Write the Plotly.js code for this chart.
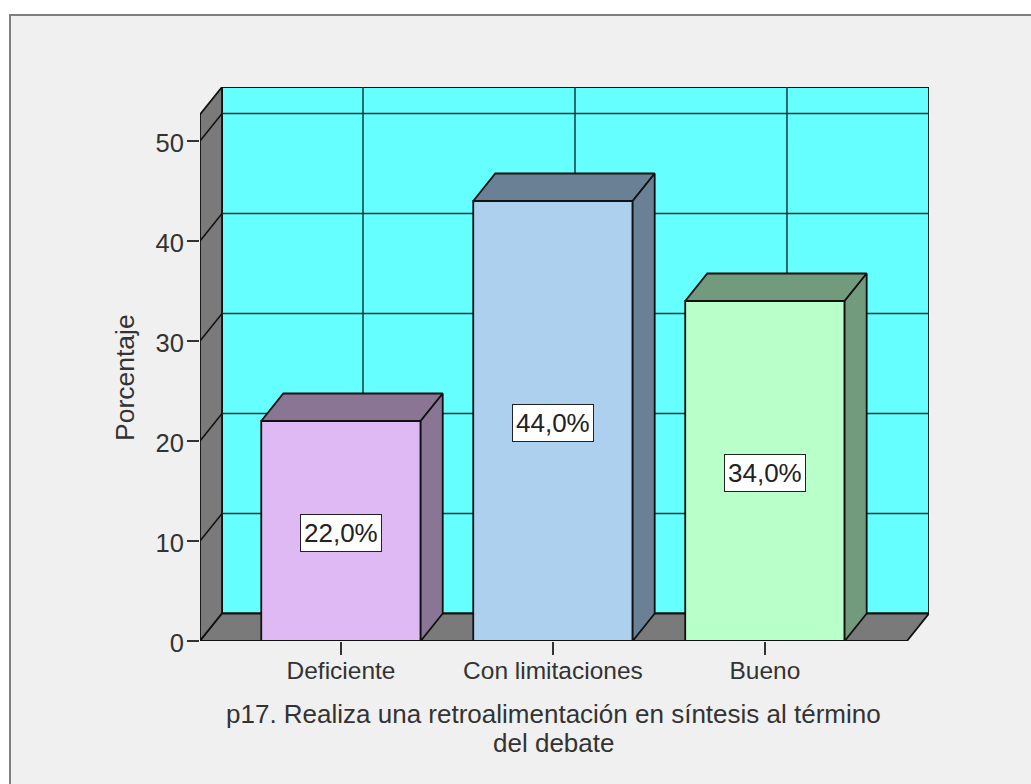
<!DOCTYPE html>
<html><head><meta charset="utf-8">
<script src="https://cdn.plot.ly/plotly-3.0.1.min.js"></script>
<style>html,body{margin:0;padding:0;background:#fff;overflow:hidden}#c{width:1031px;height:784px}</style>
</head><body><div id="c"></div>
<script>
const categories = ["Deficiente", "Con limitaciones", "Bueno"];
const values = [22, 44, 34];
const labels = ["22,0%", "44,0%", "34,0%"];
const frontColors = ["#dfb9f3", "#aed0ef", "#b9ffc9"];
const shadeColors = ["#8b7595", "#6a8095", "#729a7d"];
const yTicks = [0, 10, 20, 30, 40, 50];
const xTitleLines = ["p17. Realiza una retroalimentación en síntesis al término", "del debate"];
const yTitle = "Porcentaje";

const font = "Liberation Sans, Arial, sans-serif";
const textColor = "#333333";
const edge = "#111111";
const lw = 1.8;
const W = 1031, H = 784, L = 200, T = 87, PW = 729, PH = 554;
const xMin = -0.665, xMax = 2.774, yMin = 0, yMax = 55.4;
const barW = 0.752, dx = 0.104, dy = 2.75;

const poly = (xs, ys, fill) => ({
  type: "scatter", mode: "lines", x: xs.concat(xs[0]), y: ys.concat(ys[0]),
  fill: "toself", fillcolor: fill, line: {color: edge, width: lw},
  hoverinfo: "skip", showlegend: false, cliponaxis: false
});
const traces = [{
  type: "bar", x: categories.map((_, i) => i), y: values, width: barW,
  marker: {color: frontColors, line: {color: edge, width: lw}},
  hoverinfo: "skip", showlegend: false, cliponaxis: false
}];
values.forEach((v, i) => {
  const a = i - barW / 2, b = i + barW / 2;
  traces.push(poly([a, b, b + dx, a + dx], [v, v, v + dy, v + dy], shadeColors[i]));
  traces.push(poly([b, b + dx, b + dx, b], [0, dy, v + dy, v], shadeColors[i]));
});

const wallX = xMin + dx, frontR = xMax - dx;
const pathOf = pts => "M" + pts.map(p => p.join(",")).join("L") + "Z";
const shapes = [];
shapes.push({type: "rect", xref: "paper", yref: "paper", layer: "below",
  x0: (10 - L) / PW, x1: (W + 20 - L) / PW, y0: (T + PH - (H + 20)) / PH, y1: (T + PH - 15) / PH,
  fillcolor: "#f0f0f0", line: {color: "#7f7f7f", width: 2}});
shapes.push({type: "rect", xref: "x", yref: "y", layer: "below", x0: wallX, x1: xMax, y0: dy, y1: yMax,
  fillcolor: "#66ffff", line: {color: edge, width: lw}});
shapes.push({type: "path", xref: "x", yref: "y", layer: "below",
  path: pathOf([[xMin, 0], [wallX, dy], [wallX, yMax], [xMin, yMax - dy]]),
  fillcolor: "#7a7a7a", line: {color: edge, width: lw}});
shapes.push({type: "path", xref: "x", yref: "y", layer: "below",
  path: pathOf([[xMin, 0], [frontR, 0], [xMax, dy], [wallX, dy]]),
  fillcolor: "#7a7a7a", line: {color: edge, width: lw}});
yTicks.filter(v => v > 0).forEach(v => {
  shapes.push({type: "line", xref: "x", yref: "y", layer: "below", x0: wallX, x1: xMax, y0: v + dy, y1: v + dy,
    line: {color: "#123c3c", width: 1.5}});
  shapes.push({type: "line", xref: "x", yref: "y", layer: "below", x0: xMin, x1: wallX, y0: v, y1: v + dy,
    line: {color: edge, width: 1.5}});
});
categories.forEach((_, i) => {
  shapes.push({type: "line", xref: "x", yref: "y", layer: "below", x0: i + dx, x1: i + dx, y0: dy, y1: yMax,
    line: {color: "#123c3c", width: 1.5}});
});

const annotations = values.map((v, i) => ({
  x: i, y: v / 2 - 0.2, xref: "x", yref: "y", text: labels[i], showarrow: false,
  font: {family: font, size: 26, color: "#222222"}, bgcolor: "#ffffff",
  bordercolor: "#222222", borderwidth: 1, borderpad: 3
}));
[714, 743].forEach((py, k) => annotations.push({
  xref: "paper", yref: "paper", x: (553 - L) / PW, y: (T + PH - py) / PH, xanchor: "center", yanchor: "middle",
  text: xTitleLines[k], showarrow: false, align: "center", font: {family: font, size: 26, color: textColor}
}));
annotations.push({
  xref: "paper", yref: "paper", x: (125 - L) / PW, y: (T + PH - 378) / PH, xanchor: "center", yanchor: "middle",
  text: yTitle, textangle: -90, showarrow: false, font: {family: font, size: 26.5, color: textColor}
});

const layout = {
  width: W, height: H, paper_bgcolor: "#ffffff", plot_bgcolor: "rgba(0,0,0,0)",
  margin: {l: L, t: T, r: W - L - PW, b: H - T - PH, pad: 0},
  showlegend: false, bargap: 0,
  xaxis: {type: "linear", range: [xMin, xMax], tickmode: "array", tickvals: categories.map((_, i) => i),
    ticktext: categories, ticks: "outside", ticklen: 13, tickwidth: 1.5, tickcolor: "#333333",
    ticklabelstandoff: -5,
    showgrid: false, zeroline: false, showline: false, fixedrange: true,
    tickfont: {family: font, size: 24.5, color: textColor}},
  yaxis: {range: [yMin, yMax], tickmode: "array", tickvals: yTicks, ticks: "outside", ticklen: 12,
    tickwidth: 1.5, tickcolor: "#333333", showgrid: false, zeroline: false, showline: false, fixedrange: true,
    ticklabelstandoff: -2, ticklabelshift: 2,
    tickfont: {family: font, size: 25.5, color: textColor}},
  shapes, annotations
};
Plotly.newPlot("c", traces, layout, {displayModeBar: false, staticPlot: true});
</script></body></html>
